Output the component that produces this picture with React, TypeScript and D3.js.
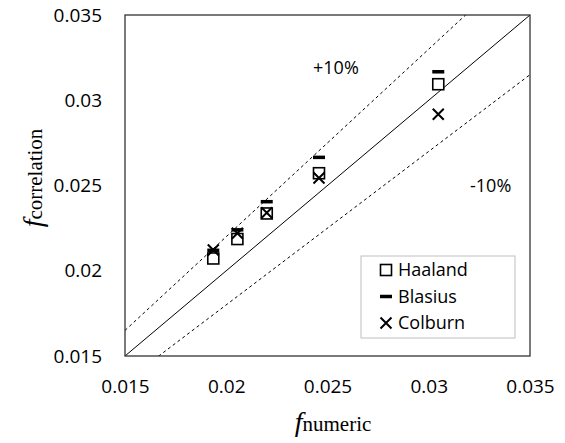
import React, { useRef, useEffect } from 'react';
import * as d3 from 'd3';

// numeric friction factor (x) and correlation values (y)
const fNumeric = [0.01936, 0.02055, 0.022, 0.02458, 0.03047];
const haaland = [0.02072, 0.02186, 0.02336, 0.02572, 0.03094];
const blasius = [0.0212, 0.0224, 0.02405, 0.02665, 0.03167];
const colburn = [0.02122, 0.0222, 0.0234, 0.02544, 0.02918];
const ticks = [0.015, 0.02, 0.025, 0.03, 0.035];
const seriesNames = ['Haaland', 'Blasius', 'Colburn'];

const App: React.FC = () => {
  const svgRef = useRef<SVGSVGElement>(null);

  const width = 565;
  const height = 443;
  const left = 125;
  const right = 530;
  const top = 15;
  const bottom = 356;

  useEffect(() => {
    if (!svgRef.current) return;
    const svg = d3.select(svgRef.current);
    svg.selectAll('*').remove();

    const x = d3.scaleLinear().domain([0.015, 0.035]).range([left, right]);
    const y = d3.scaleLinear().domain([0.015, 0.035]).range([bottom, top]);

    const tickFont = "'Open Sans', sans-serif";

    const g = svg.append('g');

    // clip for reference lines
    svg.append('defs').append('clipPath').attr('id', 'plot-clip')
      .append('rect')
      .attr('x', left).attr('y', top)
      .attr('width', right - left).attr('height', bottom - top);

    // 1:1 and ±10% lines
    const lines = [
      { k: 1, dash: null },
      { k: 1.1, dash: '3,3' },
      { k: 0.9, dash: '3,3' },
    ];
    const lg = g.append('g').attr('clip-path', 'url(#plot-clip)');
    lines.forEach(l => {
      lg.append('line')
        .attr('x1', x(0.015)).attr('y1', y(0.015 * l.k))
        .attr('x2', x(0.035)).attr('y2', y(0.035 * l.k))
        .attr('stroke', '#000')
        .attr('stroke-width', 1)
        .attr('stroke-dasharray', l.dash);
    });

    // plot border
    g.append('rect')
      .attr('x', left).attr('y', top)
      .attr('width', right - left).attr('height', bottom - top)
      .attr('fill', 'none')
      .attr('stroke', '#333')
      .attr('stroke-width', 1.3);

    // axes (labels only)
    const xAxis = g.append('g')
      .attr('transform', `translate(0,${bottom})`)
      .call(d3.axisBottom(x).tickValues(ticks).tickSize(0).tickPadding(24).tickFormat(d => String(d)));
    xAxis.select('.domain').remove();
    xAxis.selectAll('text').attr('font-family', tickFont).attr('font-size', 19).attr('fill', '#000');

    const yAxis = g.append('g')
      .attr('transform', `translate(${left},0)`)
      .call(d3.axisLeft(y).tickValues(ticks).tickSize(0).tickPadding(23).tickFormat(d => String(d)));
    yAxis.select('.domain').remove();
    yAxis.selectAll('text').attr('font-family', tickFont).attr('font-size', 19).attr('fill', '#000');

    // markers
    const drawSquare = (sel: any, cx: number, cy: number) =>
      sel.append('rect')
        .attr('x', cx - 5.5).attr('y', cy - 5.5)
        .attr('width', 11).attr('height', 11)
        .attr('fill', '#fff').attr('stroke', '#000').attr('stroke-width', 1.6);
    const drawDash = (sel: any, cx: number, cy: number) =>
      sel.append('line')
        .attr('x1', cx - 6).attr('x2', cx + 6)
        .attr('y1', cy).attr('y2', cy)
        .attr('stroke', '#000').attr('stroke-width', 3.5);
    const drawCross = (sel: any, cx: number, cy: number) =>
      sel.append('path')
        .attr('d', `M${cx - 5.5},${cy - 5.5}L${cx + 5.5},${cy + 5.5}M${cx - 5.5},${cy + 5.5}L${cx + 5.5},${cy - 5.5}`)
        .attr('stroke', '#000').attr('stroke-width', 2).attr('fill', 'none');

    const mg = g.append('g');
    fNumeric.forEach((v, i) => drawSquare(mg, x(v), y(haaland[i])));
    fNumeric.forEach((v, i) => drawDash(mg, x(v), y(blasius[i])));
    fNumeric.forEach((v, i) => drawCross(mg, x(v), y(colburn[i])));

    // band labels
    g.append('text').attr('x', 313).attr('y', 68).attr('dy', '0.35em')
      .attr('font-family', tickFont).attr('font-size', 18).text('+10%');
    g.append('text').attr('x', 470).attr('y', 186).attr('dy', '0.35em')
      .attr('font-family', tickFont).attr('font-size', 18).text('-10%');

    // legend
    const leg = g.append('g');
    leg.append('rect')
      .attr('x', 361).attr('y', 256).attr('width', 154).attr('height', 82)
      .attr('fill', '#fff').attr('stroke', '#bfbfbf').attr('stroke-width', 1);
    const drawers = [drawSquare, drawDash, drawCross];
    seriesNames.forEach((name, i) => {
      const cy = 270 + i * 26.5;
      drawers[i](leg, 386, cy);
      leg.append('text')
        .attr('x', 398).attr('y', cy).attr('dy', '0.35em')
        .attr('font-family', tickFont).attr('font-size', 18)
        .text(name);
    });

    // axis titles
    const xt = g.append('text')
      .attr('x', 333).attr('y', 431)
      .attr('text-anchor', 'middle')
      .attr('font-family', "'Liberation Serif', serif");
    xt.append('tspan').attr('font-style', 'italic').attr('font-size', 28).text('f');
    xt.append('tspan').attr('font-size', 21).text('numeric');

    const yt = g.append('text')
      .attr('transform', `translate(42,178) rotate(-90)`)
      .attr('text-anchor', 'middle')
      .attr('font-family', "'Liberation Serif', serif");
    yt.append('tspan').attr('font-style', 'italic').attr('font-size', 28).text('f');
    yt.append('tspan').attr('font-size', 21).text('correlation');

    return () => {
      svg.selectAll('*').remove();
    };
  }, []);

  return (
    <svg
      ref={svgRef}
      width={width}
      height={height}
      style={{ position: 'absolute', left: 0, top: 0, background: '#fff' }}
    />
  );
};

export default App;
